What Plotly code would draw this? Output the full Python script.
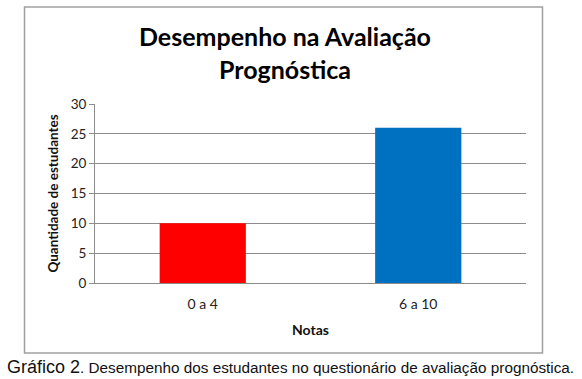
import plotly.graph_objects as go

categories = ["0 a 4", "6 a 10"]
values = [10, 26]
bar_colors = ["#FF0000", "#0070C0"]
y_ticks = [0, 5, 10, 15, 20, 25, 30]

W, H = 582, 379
L, R, T, B = 95, 526, 104, 283  # plot area in pixels


def px_x(x):
    return (x - L) / (R - L)


def px_y(y):
    return (B - y) / (B - T)


fig = go.Figure()
fig.add_trace(go.Bar(
    x=categories, y=values, marker=dict(color=bar_colors, line=dict(width=0)),
    width=0.4,
))

font_main = "Lato, 'Open Sans', sans-serif"

fig.update_layout(
    width=W, height=H,
    margin=dict(l=L, r=W - R, t=T, b=H - B, pad=0),
    paper_bgcolor="white", plot_bgcolor="white",
    showlegend=False,
    font=dict(family=font_main, size=12, color="#222222"),
    xaxis=dict(
        showgrid=False, showline=True, linecolor="#8c8c8c", linewidth=1,
        ticks="", tickfont=dict(size=14, color="#222222"), ticklabelstandoff=8,
        title=dict(text="<b>Notas</b>", font=dict(size=14, color="#111111"), standoff=14),
    ),
    yaxis=dict(
        range=[0, 30], tickvals=y_ticks, showgrid=True, gridcolor="#8c8c8c", gridwidth=1,
        showline=True, linecolor="#8c8c8c", linewidth=1, zeroline=False,
        ticks="outside", ticklen=5, tickcolor="#8c8c8c",
        tickfont=dict(size=13.5, color="#222222"),
        title=dict(text="<b>Quantidade de estudantes</b>", font=dict(size=13.5, color="#111111"), standoff=8),
    ),
    annotations=[
        dict(text="<b>Desempenho na Avaliação<br>Prognóstica</b>", x=px_x(285), y=px_y(52),
             xref="paper", yref="paper", showarrow=False, xanchor="center", yanchor="middle",
             font=dict(family=font_main, size=25, color="#000000")),
        dict(text="<span style='font-size:18px'>Gráfico 2</span>. Desempenho dos estudantes no questionário de avaliação prognóstica.",
             x=px_x(5), y=px_y(367), xref="paper", yref="paper", showarrow=False,
             xanchor="left", yanchor="middle",
             font=dict(family="'Liberation Sans', Arial, sans-serif", size=15.3, color="#111111")),
    ],
    shapes=[
        dict(type="rect", xref="paper", yref="paper", x0=px_x(24.5), x1=px_x(542.5),
             y0=px_y(353), y1=px_y(7), line=dict(color="#a0a0a0", width=1.5), layer="below"),
    ],
)

fig.write_html("out.html", config={"displayModeBar": False},
               post_script="document.body.style.margin='0';")
